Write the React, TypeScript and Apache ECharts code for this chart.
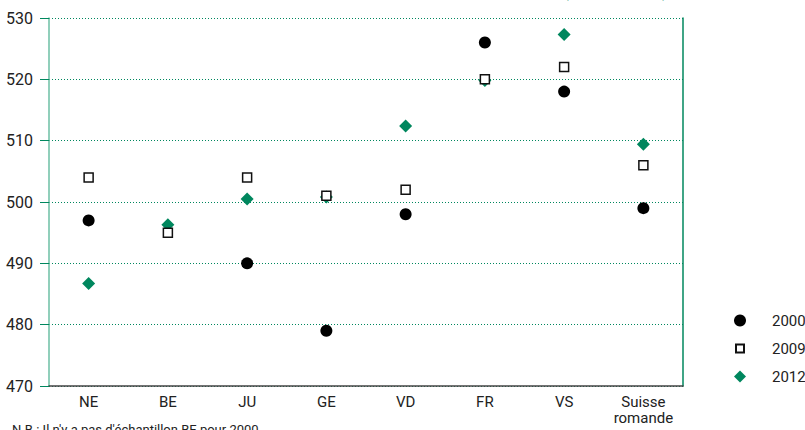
import React, { useEffect, useRef } from "react";
import * as echarts from "echarts";

const categories = ["NE", "BE", "JU", "GE", "VD", "FR", "VS", "Suisse\nromande"];
const values2000: (number | null)[] = [497, null, 490, 479, 498, 526, 518, 499];
const values2009: (number | null)[] = [504, 495, 504, 501, 502, 520, 522, 506];
const values2012: (number | null)[] = [486.7, 496.3, 500.5, 500.8, 512.4, 519.8, 527.3, 509.4];
const yTicks = { min: 470, max: 530, interval: 10 };

const GREEN = "#00875e";
const FONT = "Roboto, 'Liberation Sans', sans-serif";

export default function App() {
  const ref = useRef<HTMLDivElement>(null);
  useEffect(() => {
    if (!ref.current) return;
    const chart = echarts.init(ref.current, null, { renderer: "svg" });
    chart.setOption({
      animation: false,
      backgroundColor: "#ffffff",
      textStyle: { fontFamily: FONT },
      grid: { left: 49, right: 122, top: 18, bottom: 44 },
      legend: {
        orient: "vertical",
        left: 728,
        top: 308,
        itemWidth: 12,
        itemHeight: 12,
        itemGap: 13,
        textStyle: { fontFamily: FONT, fontSize: 15, color: "#222", padding: [0, 0, 0, 21] },
        data: [
          { name: "2000", icon: "circle" },
          { name: "2009", icon: "path://M0,0M12,12M2,2L10,2L10,10L2,10Z" },
          { name: "2012", icon: "diamond" },
        ],
      },
      xAxis: {
        type: "category",
        data: categories,
        boundaryGap: true,
        axisLine: { show: true, lineStyle: { color: "#444", width: 1.5 } },
        axisTick: { show: false },
        axisLabel: { color: "#222", fontSize: 15, fontFamily: FONT, margin: 8, lineHeight: 16 },
        splitLine: { show: false },
      },
      yAxis: [
        {
          type: "value",
          min: yTicks.min,
          max: yTicks.max,
          interval: yTicks.interval,
          axisLine: { show: true, lineStyle: { color: "#6dbfa4", width: 1.5 } },
          axisTick: { show: true, inside: false, length: 9, lineStyle: { color: GREEN, width: 1 } },
          axisLabel: { color: "#222", fontSize: 16, fontFamily: FONT, margin: 16 },
          splitLine: { show: true, lineStyle: { color: GREEN, type: [1, 2], width: 1 } },
        },
        {
          type: "value",
          position: "right",
          min: yTicks.min,
          max: yTicks.max,
          interval: yTicks.interval,
          axisLine: { show: true, lineStyle: { color: GREEN, width: 1.5 } },
          axisTick: { show: false },
          axisLabel: { show: false },
          splitLine: { show: false },
        },
      ],
      series: [
        {
          name: "2000",
          type: "scatter",
          data: values2000,
          symbol: "circle",
          symbolSize: 12,
          itemStyle: { color: "#000", opacity: 1 },
          z: 3,
        },
        {
          name: "2012",
          type: "scatter",
          data: values2012,
          symbol: "diamond",
          symbolSize: 13,
          itemStyle: { color: GREEN, opacity: 1 },
          z: 2,
        },
        {
          name: "2009",
          type: "scatter",
          data: values2009,
          symbol: "rect",
          symbolSize: 9,
          itemStyle: { color: "#fff", borderColor: "#111", borderWidth: 1.5, opacity: 1 },
          z: 4,
        },
      ],
      graphic: [
        {
          type: "text",
          left: 12,
          top: -17,
          style: {
            text: "Graphique 2 : moyennes",
            fill: "#222",
            font: "16px " + FONT,
          },
        },
        {
          type: "text",
          right: 137,
          top: -18,
          style: {
            text: "compréhension de l'écrit (2000 - 2012)",
            fill: GREEN,
            font: "bold 17px " + FONT,
          },
        },
        {
          type: "text",
          left: 12,
          top: 423,
          style: {
            text: "N.B.: Il n'y a pas d'échantillon BE pour 2000.",
            fill: "#222",
            font: "13px " + FONT,
          },
        },
      ],
    });
    return () => chart.dispose();
  }, []);
  return (
    <div
      ref={ref}
      style={{ position: "fixed", left: 0, top: 0, width: 805, height: 430, background: "#fff" }}
    />
  );
}
